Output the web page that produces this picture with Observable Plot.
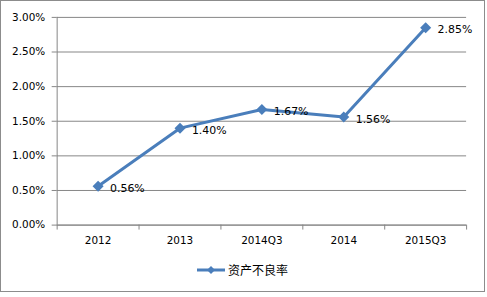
<!DOCTYPE html>
<html><head><meta charset="utf-8">
<script src="https://cdn.jsdelivr.net/npm/d3@7"></script>
<script src="https://cdn.jsdelivr.net/npm/@observablehq/plot@0.6"></script>
<style>
body{margin:0;background:#fff;}
#wrap{position:absolute;left:0;top:0;width:483px;height:290px;border:1px solid #8c8c8c;overflow:hidden;}
#chart{position:absolute;left:-1px;top:-1px;}
#legend{position:absolute;left:195px;top:260px;font-family:"Noto Sans CJK SC",sans-serif;font-size:12px;display:flex;align-items:center;color:#000;}
</style></head>
<body><div id="wrap"><div id="chart"></div><div id="legend"></div></div>
<script>
const categories = ["2012","2013","2014Q3","2014","2015Q3"];
const values = [0.0056,0.0140,0.0167,0.0156,0.0285];
const labels = ["0.56%","1.40%","1.67%","1.56%","2.85%"];
const seriesName = "资产不良率";
const yTicks = [0,0.005,0.01,0.015,0.02,0.025,0.03];

const data = categories.map((c,i)=>({i, c, v: values[i], label: labels[i]}));
const blue = "#4A7EBB";
const boundaries = d3.range(categories.length + 1).map(k => k - 0.5);

const plot = Plot.plot({
  width: 487, height: 255,
  marginLeft: 57, marginRight: 18, marginTop: 17, marginBottom: 29,
  style: {fontFamily: "DejaVu Sans, sans-serif", fontSize: "10.5px", color: "#000", background: "transparent"},
  x: {type: "linear", domain: [-0.5, categories.length - 0.5]},
  y: {domain: [0, 0.03]},
  marks: [
    Plot.gridY(yTicks, {stroke: "#868686", strokeOpacity: 1}),
    Plot.axisY({ticks: yTicks, tickSize: 5, tickPadding: 7, stroke: "#868686", tickFormat: d3.format(".2%"), label: null}),
    Plot.ruleX([-0.5], {stroke: "#868686"}),
    Plot.ruleY([0], {stroke: "#868686"}),
    Plot.axisX({ticks: boundaries, tickSize: 5, tickFormat: () => "", stroke: "#868686", label: null}),
    Plot.axisX({ticks: d3.range(categories.length), tickSize: 0, tickPadding: 12, tickFormat: i => categories[i], label: null}),
    Plot.line(data, {x: "i", y: "v", stroke: blue, strokeWidth: 3}),
    Plot.dot(data, {x: "i", y: "v", symbol: "diamond2", r: 5, fill: blue, stroke: "none"}),
    Plot.text(data, {x: "i", y: "v", text: "label", textAnchor: "start", dx: 12, dy: 2, fill: "#000", fontSize: 11})
  ]
});
document.getElementById("chart").appendChild(plot);

// legend
const lg = d3.select("#legend");
const sw = lg.append("svg").attr("width", 30).attr("height", 14);
sw.append("line").attr("x1", 1).attr("x2", 29).attr("y1", 7).attr("y2", 7).attr("stroke", blue).attr("stroke-width", 3);
sw.append("path").attr("d", d3.symbol(d3.symbolDiamond2, 40)()).attr("transform", "translate(15,7)").attr("fill", blue);
lg.append("span").text(seriesName).style("margin-left", "2px");
</script>
</body></html>
